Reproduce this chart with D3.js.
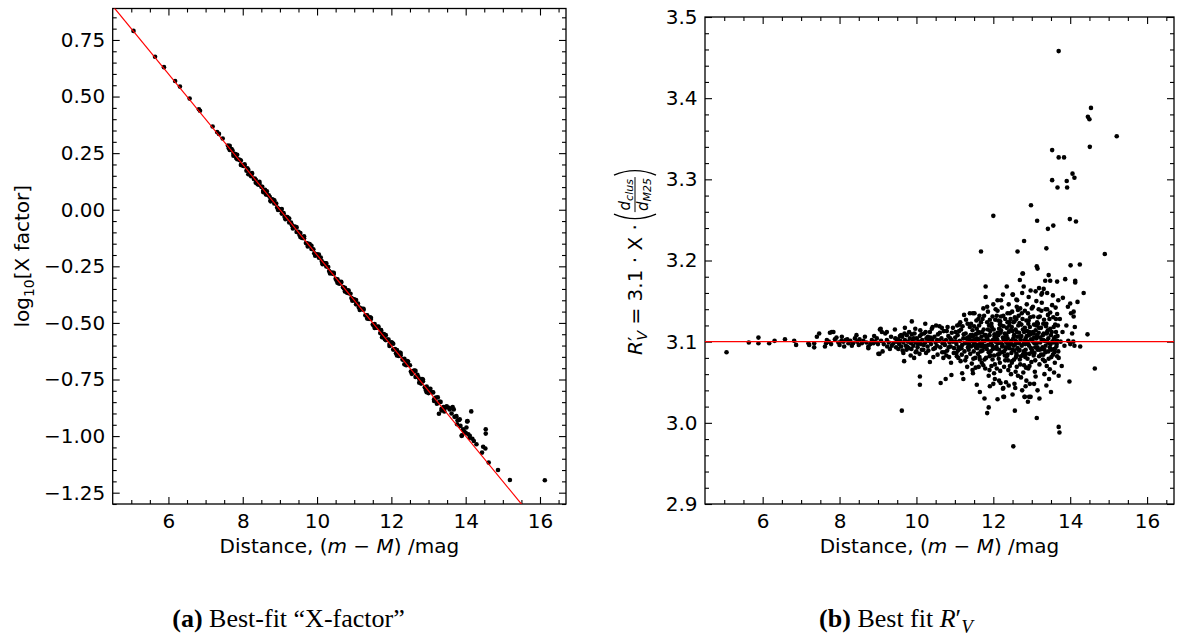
<!DOCTYPE html>
<html>
<head>
<meta charset="utf-8">
<script src="https://cdn.jsdelivr.net/npm/d3@7"></script>
<style>
  body { margin: 0; background: #fff; }
  text { font-family: "DejaVu Sans", sans-serif; }
</style>
</head>
<body>
<svg id="fig" width="1178" height="644"></svg>
<script>
// ---- data ----
// (a) distance modulus vs log10 of the best-fit X factor
let xfactor_sparse = [[5.06,0.790],[5.64,0.676],[5.88,0.630],[6.18,0.569],[6.31,0.544],[6.57,0.491],
  [6.82,0.444],[6.85,0.437],[7.19,0.368],[7.31,0.343],[7.36,0.335],[7.46,0.315]];
let xfactor_band = [[7.60,0.284],[7.65,0.264],[7.70,0.268],[7.75,0.248],[7.80,0.246],[7.85,0.223],[7.90,0.222],
  [7.95,0.217],[8.00,0.195],[8.05,0.193],[8.10,0.172],[8.15,0.176],[8.20,0.159],[8.25,0.159],[8.30,0.136],
  [8.35,0.132],[8.40,0.113],[8.45,0.115],[8.50,0.101],[8.55,0.084],[8.60,0.088],[8.65,0.067],[8.70,0.064],
  [8.75,0.042],[8.80,0.046],[8.85,0.028],[8.90,0.027],[8.95,0.005],[9.00,0.002],[9.05,-0.017],[9.10,-0.015],
  [9.15,-0.031],[9.20,-0.032],[9.25,-0.056],[9.30,-0.057],[9.35,-0.074],[9.40,-0.074],[9.45,-0.098],[9.50,-0.098],
  [9.55,-0.103],[9.60,-0.125],[9.65,-0.126],[9.70,-0.147],[9.75,-0.149],[9.80,-0.152],[9.85,-0.173],[9.90,-0.175],
  [9.95,-0.198],[10.00,-0.197],[10.05,-0.212],[10.10,-0.211],[10.15,-0.236],[10.20,-0.236],[10.25,-0.251],
  [10.30,-0.253],[10.35,-0.278],[10.40,-0.278],[10.45,-0.284],[10.50,-0.305],[10.55,-0.307],[10.60,-0.327],
  [10.65,-0.322],[10.70,-0.342],[10.75,-0.345],[10.80,-0.366],[10.85,-0.369],[10.90,-0.371],[10.95,-0.394],
  [11.00,-0.396],[11.05,-0.418],[11.10,-0.414],[11.15,-0.433],[11.20,-0.438],[11.25,-0.442],[11.30,-0.466],
  [11.35,-0.466],[11.40,-0.482],[11.45,-0.483],[11.50,-0.507],[11.55,-0.505],[11.60,-0.521],[11.65,-0.521],
  [11.70,-0.545],[11.75,-0.547],[11.80,-0.549],[11.85,-0.576],[11.90,-0.574],[11.95,-0.593],[12.00,-0.586],
  [12.05,-0.618],[12.10,-0.616],[12.15,-0.620],[12.20,-0.646],[12.25,-0.643],[12.30,-0.662],[12.35,-0.658],
  [12.40,-0.687],[12.45,-0.685],[12.50,-0.687],[12.55,-0.715],[12.60,-0.712],[12.65,-0.739],[12.70,-0.729],
  [12.75,-0.748],[12.80,-0.768],[12.85,-0.758],[12.90,-0.784],[12.95,-0.781],[13.00,-0.810],[13.05,-0.804],
  [13.10,-0.806],[13.15,-0.837],[13.20,-0.830],[13.25,-0.853],[13.30,-0.848],[13.35,-0.879],[13.40,-0.872],
  [13.45,-0.875],
  [7.625,0.272],[7.725,0.262],[7.825,0.229],[7.925,0.219],[8.025,0.193],[8.125,0.183],[8.225,0.148],[8.325,0.138],
  [8.425,0.111],[8.525,0.101],[8.625,0.067],[8.725,0.057],[8.825,0.042],[8.925,0.010],[9.025,-0.001],[9.125,-0.031],
  [9.225,-0.039],[9.325,-0.068],[9.425,-0.077],[9.525,-0.111],[9.625,-0.122],[9.725,-0.149],[9.825,-0.158],
  [9.925,-0.192],[10.025,-0.201],[10.125,-0.227],[10.225,-0.237],[10.325,-0.271],[10.425,-0.283],[10.525,-0.313],
  [10.625,-0.319],[10.725,-0.348],[10.825,-0.356],[10.925,-0.390],[11.025,-0.402],[11.125,-0.432],[11.225,-0.439],
  [11.325,-0.467],[11.425,-0.475],[11.525,-0.511],[11.625,-0.517],[11.725,-0.532],[11.825,-0.572],[11.925,-0.574],
  [12.025,-0.588],[12.125,-0.634],[12.225,-0.631],[12.325,-0.661],[12.425,-0.669],[12.525,-0.715],[12.625,-0.710],
  [12.725,-0.739],[12.825,-0.748],[12.925,-0.796],[13.025,-0.792],[13.125,-0.807],[13.225,-0.857],[13.325,-0.849],
  [13.425,-0.891]];
let xfactor_edge = [[7.65,0.282],[7.75,0.239],[7.85,0.243],[7.95,0.198],[8.05,0.201],[8.15,0.157],[8.25,0.162],
  [8.35,0.119],[8.45,0.123],[8.55,0.078],[8.65,0.081],[8.75,0.037],[8.85,0.042],[8.95,-0.001],[9.05,0.003],
  [9.15,-0.042],[9.25,-0.039],[9.35,-0.083],[9.45,-0.078],[9.55,-0.121],[9.65,-0.117],[9.75,-0.162],[9.85,-0.159],
  [9.95,-0.203],[10.05,-0.198],[10.15,-0.241],[10.25,-0.237],[10.35,-0.282],[10.45,-0.279],[10.55,-0.323],
  [10.65,-0.318],[10.75,-0.361],[10.85,-0.357],[10.95,-0.402],[11.05,-0.399],[11.15,-0.443],[11.25,-0.438],
  [11.35,-0.481],[11.45,-0.477],[11.55,-0.522],[11.65,-0.516],[11.75,-0.563],[11.85,-0.554],[11.95,-0.602],
  [12.05,-0.592],[12.15,-0.644],[12.25,-0.633],[12.35,-0.683],[12.45,-0.671],[12.55,-0.725],[12.65,-0.712],
  [12.75,-0.764],[12.85,-0.750],[12.95,-0.806],[13.05,-0.791],[13.15,-0.845],[13.25,-0.829],[13.35,-0.887],
  [13.45,-0.872]];
let xfactor_tail = [[13.28,-0.901],[13.49,-0.868],[13.57,-0.882],[13.68,-0.882],[13.75,-0.912],[13.82,-0.929],
  [13.93,-0.970],[14.00,-0.985],[14.07,-0.992],[14.11,-1.007],[14.22,-1.022],[14.29,-1.036],[14.15,-0.891],
  [14.54,-0.970],[14.54,-0.989],[14.04,-0.935],[13.90,-0.997],[14.47,-1.047],[14.53,-1.055],[14.44,-1.073],
  [14.62,-1.117],[14.87,-1.150],[15.19,-1.194],[16.13,-1.195],[14.05,-0.934],[13.84,-0.926],[13.77,-0.948],
  [13.89,-0.999],[14.11,-0.999],[13.55,-0.875],[13.62,-0.900],[13.70,-0.915],[13.78,-0.930],[13.86,-0.955],
  [13.96,-0.980],[14.02,-0.962],[13.65,-0.872],[14.18,-1.012]];
let xfactor_fit = {intercept: 1.80, slope: -0.2};

// (b) distance modulus vs best-fit R'_V
let rv_sparse = [[5.06,3.087],[5.64,3.099],[5.89,3.105],[5.89,3.098],[6.17,3.098],[6.31,3.101],[6.58,3.103],
  [6.82,3.101],[6.87,3.096],[7.19,3.098],[7.21,3.096],[7.34,3.098],[7.34,3.093],[7.41,3.106],[7.47,3.110]];
let rv_near = [[7.65,3.098],[7.67,3.102],[7.75,3.111],[7.84,3.112],[7.80,3.112],[7.88,3.103],[7.97,3.099],
  [8.06,3.106],[8.16,3.102],[8.23,3.098],[8.32,3.095],[8.40,3.104],[8.46,3.100],[8.58,3.098],[8.66,3.106],
  [8.75,3.094],[8.84,3.102],[8.88,3.098],[8.97,3.104],[9.05,3.115],[9.04,3.085],[9.12,3.088],[9.19,3.110],
  [9.23,3.102],[9.24,3.094],[9.31,3.091],[9.34,3.106],[9.40,3.098],[9.49,3.100],
  [7.72,3.100],[7.78,3.097],[7.92,3.105],[8.00,3.096],[8.10,3.100],[8.12,3.094],[8.20,3.103],[8.28,3.101],
  [8.35,3.098],[8.50,3.096],[8.52,3.103],[8.62,3.101],[8.70,3.099],[8.80,3.097],[8.92,3.100],[9.00,3.097],
  [9.08,3.101],[9.15,3.097],[9.28,3.099],[9.36,3.095],[9.45,3.104],[8.75,3.092],[9.01,3.085],[7.62,3.094],
  [8.05,3.101],[8.44,3.108],[8.90,3.107],[9.10,3.112],[9.47,3.093]];
let rv_mid = [[9.62,3.015],
  [9.88,3.125],[10.23,3.122],[9.70,3.117],[9.44,3.115],[9.23,3.112],[9.07,3.116],[10.51,3.120],[10.60,3.119],
  [10.81,3.118],[11.06,3.120],[11.11,3.113],[11.33,3.122],[11.39,3.118],[11.57,3.116],[11.24,3.133],[11.39,3.135],
  [11.47,3.135],[11.61,3.128],[11.76,3.132],
  [9.66,3.086],[9.68,3.076],[9.94,3.080],[9.98,3.087],[10.14,3.090],[10.35,3.075],[10.44,3.081],[10.70,3.080],
  [10.73,3.087],[10.85,3.081],[10.90,3.074],[11.04,3.086],[11.09,3.080],[11.15,3.076],
  [10.09,3.057],[10.09,3.047],[10.63,3.049],[10.76,3.054],[10.91,3.059],[11.19,3.061],[11.22,3.054],[11.47,3.061],
  [11.57,3.047],
  [9.52,3.103],[9.55,3.097],[9.58,3.101],[9.60,3.094],[9.63,3.106],[9.66,3.099],[9.70,3.102],[9.72,3.095],
  [9.75,3.108],[9.78,3.100],[9.80,3.092],[9.83,3.104],[9.86,3.098],[9.90,3.101],[9.92,3.095],[9.95,3.110],
  [9.98,3.099],[10.01,3.104],[10.03,3.093],[10.06,3.100],[10.09,3.107],[10.12,3.097],[10.15,3.102],[10.18,3.090],
  [10.20,3.110],[10.23,3.099],[10.26,3.104],[10.29,3.094],[10.32,3.101],[10.35,3.112],[10.38,3.097],[10.41,3.103],
  [10.44,3.091],[10.47,3.106],[10.50,3.099],[10.53,3.095],[10.56,3.109],[10.59,3.101],[10.62,3.093],[10.65,3.104],
  [10.68,3.098],[10.71,3.113],[10.74,3.096],[10.77,3.102],[10.80,3.089],[10.83,3.107],[10.86,3.099],[10.89,3.094],
  [10.92,3.111],[10.95,3.100],[10.98,3.092],[11.01,3.105],[11.04,3.097],[11.07,3.108],[11.10,3.093],[11.13,3.101],
  [11.16,3.115],[11.19,3.096],[11.22,3.104],[11.25,3.088],[11.28,3.110],[11.31,3.099],[11.34,3.093],[11.37,3.106],
  [11.40,3.085],[11.43,3.101],[11.46,3.114],[11.49,3.096],
  [9.60,3.108],[9.74,3.090],[9.88,3.109],[10.00,3.088],[10.10,3.114],[10.25,3.086],[10.40,3.116],[10.55,3.084],
  [10.66,3.117],[10.78,3.083],[10.95,3.117],[11.05,3.082],[11.20,3.119],[11.30,3.081],[11.42,3.122],[11.48,3.079],
  [10.30,3.106],[10.88,3.104],[11.12,3.091],[9.85,3.083],
  [9.53,3.091],[9.57,3.107],[9.64,3.089],[9.69,3.110],[9.76,3.094],[9.81,3.112],[9.87,3.091],[9.93,3.104],
  [9.97,3.116],[10.04,3.097],[10.08,3.085],[10.13,3.109],[10.19,3.096],[10.24,3.112],[10.31,3.089],[10.37,3.105],
  [10.42,3.118],[10.48,3.092],[10.54,3.102],[10.61,3.111],[10.67,3.087],[10.72,3.100],[10.79,3.113],[10.84,3.093],
  [10.91,3.102],[10.97,3.086],[11.03,3.100],[11.11,3.121],[11.17,3.092],[11.23,3.109],[11.27,3.077],[11.33,3.104],
  [11.38,3.096],[11.45,3.108],[11.49,3.088]];
let rv_far = [[11.80,3.168],[11.80,3.155],[12.35,3.168],[12.00,3.146],[12.11,3.151],[12.20,3.151],[12.11,3.138],
  [11.84,3.143],[12.37,3.135],[12.49,3.137],[12.61,3.143],[12.51,3.158],[12.62,3.151],[12.75,3.160],[12.77,3.184],
  [12.69,3.176],[12.80,3.224],[11.68,3.211],[12.63,3.211],[13.38,3.215],[12.98,3.268],[12.00,3.255],[13.14,3.249],
  [13.42,3.239],[13.56,3.243],[13.13,3.193],[13.15,3.190],[12.76,3.184],[12.79,3.168],[12.97,3.163],[13.19,3.166],
  [13.31,3.165],[13.27,3.160],[12.50,3.158],[13.44,3.182],[13.35,3.175],[13.48,3.175],[13.66,3.174],[13.81,3.154],
  [13.69,3.151],
  [11.65,3.038],[11.77,3.030],[11.91,3.045],[12.11,3.029],[12.19,3.049],[12.26,3.043],[12.28,3.032],[12.50,3.035],
  [12.58,3.063],[12.72,3.056],[12.81,3.032],[12.90,3.026],[12.93,3.032],[11.84,3.012],[11.88,3.019],[12.52,2.971],
  [12.56,3.015],[12.97,3.032],[12.82,3.032],[12.26,3.032],[12.75,3.040],[12.57,3.043],[12.25,3.042],[12.00,3.048],
  [12.95,3.048],[13.06,3.048],[13.20,3.030],[13.13,3.006],[13.70,2.995],[13.72,2.988],[13.45,3.054],[13.70,3.058],
  [13.98,3.051],
  [11.32,3.069],[11.46,3.065],[11.62,3.069],[11.65,3.078],[11.74,3.071],[11.90,3.065],[12.02,3.061],[12.09,3.067],
  [12.17,3.074],[12.28,3.069],[12.39,3.065],[12.48,3.074],[12.61,3.069],[12.69,3.078],[12.80,3.071],[12.91,3.067],
  [11.52,3.102],[11.55,3.093],[11.58,3.110],[11.60,3.085],[11.63,3.120],[11.66,3.098],[11.69,3.106],[11.72,3.089],
  [11.75,3.115],[11.78,3.101],[11.81,3.080],[11.84,3.124],[11.87,3.096],[11.90,3.108],[11.93,3.088],[11.96,3.118],
  [11.99,3.102],[12.02,3.083],[12.05,3.127],[12.08,3.094],[12.11,3.111],[12.14,3.079],[12.17,3.121],[12.20,3.099],
  [12.23,3.087],[12.26,3.132],[12.29,3.105],[12.32,3.091],[12.35,3.117],[12.38,3.077],[12.41,3.124],[12.44,3.100],
  [12.47,3.086],[12.50,3.113],[12.53,3.095],[12.56,3.130],[12.59,3.081],[12.62,3.106],[12.65,3.120],[12.68,3.090],
  [12.71,3.103],[12.74,3.135],[12.77,3.084],[12.80,3.112],[12.83,3.097],[12.86,3.126],[12.89,3.079],[12.92,3.108],
  [12.95,3.118],[12.98,3.092],[13.01,3.101],[13.04,3.131],[13.07,3.086],[13.10,3.114],[13.13,3.098],[13.16,3.122],
  [13.19,3.082],[13.22,3.105],[13.25,3.138],[13.28,3.093],[13.31,3.110],[13.34,3.076],[13.37,3.119],[13.40,3.100],
  [13.43,3.088],[13.46,3.128],[13.49,3.097],[13.52,3.112],[13.55,3.084],[13.58,3.104],[13.61,3.121],[13.64,3.094],
  [13.67,3.107],
  [11.56,3.126],[11.70,3.074],[11.86,3.137],[11.95,3.070],[12.06,3.140],[12.15,3.090],[12.22,3.142],[12.31,3.077],
  [12.40,3.146],[12.46,3.060],[12.55,3.125],[12.64,3.058],[12.70,3.141],[12.78,3.062],[12.87,3.146],[12.94,3.070],
  [13.00,3.141],[13.08,3.063],[13.12,3.150],[13.20,3.072],[13.26,3.148],[13.33,3.060],[13.40,3.140],[13.47,3.066],
  [13.53,3.145],[13.60,3.074],[13.66,3.134],[12.10,3.103],[12.36,3.098],[12.58,3.101],[12.84,3.104],[13.05,3.099],
  [13.30,3.102],[13.57,3.099],[11.88,3.058],[12.04,3.054],[12.33,3.050],[12.86,3.052],[13.10,3.057],[13.38,3.046],
  [13.58,3.062],[12.20,3.131],[12.45,3.128],[12.66,3.132],[12.90,3.135],[13.17,3.130],[13.42,3.133],[13.62,3.142],
  [11.98,3.131],[11.72,3.128]];
let rv_dense = [[11.02,3.112],[11.08,3.089],[11.14,3.124],[11.18,3.084],[11.26,3.098],[11.29,3.127],[11.36,3.090],
  [11.41,3.108],[11.44,3.073],[11.50,3.119],[11.53,3.080],[11.59,3.096],[11.64,3.132],[11.67,3.088],[11.71,3.112],
  [11.76,3.093],[11.79,3.067],[11.83,3.105],[11.89,3.120],[11.92,3.083],[11.97,3.095],[12.01,3.115],[12.04,3.072],
  [12.07,3.104],[12.13,3.126],[12.16,3.085],[12.19,3.111],[12.24,3.096],[12.27,3.119],[12.30,3.083],[12.34,3.108],
  [12.37,3.124],[12.42,3.092],[12.43,3.070],[12.48,3.118],[12.52,3.104],[12.54,3.078],[12.60,3.128],[12.63,3.092],
  [12.67,3.111],[12.72,3.082],[12.73,3.121],[12.79,3.098],[12.82,3.138],[12.85,3.085],[12.88,3.113],[12.93,3.095],
  [12.96,3.130],[12.99,3.075],[13.03,3.112],[13.06,3.121],[13.09,3.093],[13.14,3.108],[13.18,3.140],[13.21,3.090],
  [13.24,3.117],[13.29,3.078],[13.32,3.127],[13.36,3.095],[13.39,3.110],[13.44,3.079],[13.48,3.116],[13.51,3.090],
  [13.56,3.130],[13.59,3.087],[13.63,3.112],[13.68,3.120],[13.66,3.082],
  [11.51,3.135],[11.54,3.068],[11.57,3.104],[11.61,3.112],[11.64,3.081],[11.68,3.124],[11.71,3.097],[11.74,3.141],
  [11.77,3.078],[11.80,3.108],[11.83,3.091],[11.86,3.115],[11.91,3.127],[11.94,3.100],[11.98,3.078],[12.03,3.109],
  [12.06,3.092],[12.09,3.132],[12.12,3.098],[12.15,3.116],[12.18,3.064],[12.21,3.120],[12.25,3.105],[12.28,3.088],
  [12.31,3.128],[12.33,3.100],[12.37,3.084],[12.40,3.112],[12.43,3.135],[12.46,3.097],[12.49,3.076],[12.52,3.124],
  [12.55,3.089],[12.58,3.115],[12.61,3.083],[12.64,3.139],[12.67,3.098],[12.70,3.072],[12.73,3.107],[12.76,3.128],
  [12.79,3.088],[12.82,3.117],[12.85,3.068],[12.88,3.100],[12.91,3.122],[12.94,3.085],[12.97,3.109],[13.00,3.087],
  [13.03,3.143],[13.06,3.105],[13.09,3.077],[13.12,3.120],[13.15,3.090],[13.18,3.111],[13.21,3.131],[13.24,3.084],
  [13.27,3.102],[13.30,3.122],[13.33,3.090],[13.36,3.140],[13.39,3.070],[13.42,3.114],[13.45,3.098],[13.48,3.136],
  [13.51,3.081],[13.54,3.100],[13.57,3.118],[13.60,3.091],[13.63,3.128],[13.66,3.101],[13.69,3.088],[13.55,3.157],
  [13.25,3.158],[12.92,3.155],[12.60,3.152],[12.25,3.158],[13.40,3.160],[13.10,3.162],[12.55,3.048],[12.84,3.045],
  [13.15,3.040],[13.50,3.038],[12.15,3.052],[12.40,3.046]];
let rv_core = [[11.31,3.104],[11.35,3.097],[11.39,3.102],[11.42,3.094],[11.47,3.106],[11.51,3.099],[11.54,3.109],
  [11.58,3.092],[11.62,3.103],[11.65,3.111],[11.68,3.094],[11.73,3.101],[11.77,3.108],[11.80,3.095],[11.85,3.103],
  [11.88,3.087],[11.92,3.113],[11.95,3.099],[11.99,3.091],[12.03,3.106],[12.06,3.100],[12.10,3.091],[12.13,3.108],
  [12.16,3.099],[12.20,3.114],[12.23,3.094],[12.27,3.103],[12.30,3.110],[12.33,3.093],[12.37,3.104],[12.40,3.096],
  [12.44,3.114],[12.47,3.101],[12.50,3.090],[12.54,3.108],[12.57,3.097],[12.61,3.112],[12.64,3.099],[12.67,3.089],
  [12.70,3.106],[12.74,3.095],[12.77,3.115],[12.81,3.101],[12.84,3.090],[12.87,3.107],[12.91,3.097],[12.94,3.112],
  [12.98,3.103],[13.01,3.089],[13.05,3.110],[13.08,3.098],[13.12,3.104],[13.15,3.093],[13.19,3.117],[13.22,3.099],
  [13.26,3.091],[13.29,3.108],[13.33,3.101],[13.36,3.087],[13.40,3.112],[13.43,3.104],[13.47,3.093],[13.50,3.108],
  [13.54,3.100],[13.58,3.091],[13.62,3.106],[13.65,3.097],[11.90,3.082],[12.12,3.084],[12.35,3.082],[12.60,3.085],
  [12.83,3.081],[13.05,3.083],[13.30,3.084],[11.95,3.122],[12.18,3.125],[12.42,3.120],[12.68,3.123],[12.92,3.126],
  [13.14,3.124],[13.38,3.122]];
let rv_edge = [[13.70,3.458],[14.54,3.388],[14.46,3.377],[14.50,3.374],[15.21,3.353],[14.51,3.340],[13.53,3.336],
  [13.70,3.327],[13.84,3.327],[14.06,3.307],[14.11,3.302],[13.53,3.299],[13.67,3.290],[13.92,3.290],[13.91,3.298],
  [13.99,3.251],[14.15,3.248],[14.90,3.208],[14.01,3.194],[14.25,3.195],[14.13,3.175],[14.13,3.173],[13.87,3.177],
  [14.35,3.160],[14.00,3.147],[14.19,3.149],[13.94,3.143],[14.09,3.137],[14.09,3.131],[14.02,3.135],[14.45,3.109],
  [14.26,3.094],[14.11,3.095],[14.00,3.097],[14.64,3.067],[13.70,3.080],[13.75,3.100],[13.80,3.112],[13.85,3.095],
  [13.90,3.120],[13.78,3.070],[13.73,3.128],[13.95,3.101],[14.05,3.110],[14.08,3.100],[14.12,3.118]];
let rv_reference = 3.1;

let x_ticks = [6, 8, 10, 12, 14, 16];
let xf_ticks = [-1.25, -1.0, -0.75, -0.5, -0.25, 0, 0.25, 0.5, 0.75];
let rv_ticks = [2.9, 3.0, 3.1, 3.2, 3.3, 3.4, 3.5];

// ---- layout ----
let svg = d3.select('#fig');
let font_size = 20;
let major_len = 7, minor_len = 4;
let dot_r = 2.3;

let panel_a = {left: 112.7, right: 566, top: 8.5, bottom: 504, xdom: [4.5, 16.7], ydom: [-1.30, 0.889]};
let panel_b = {left: 705, right: 1174, top: 17, bottom: 504, xdom: [4.5, 16.7], ydom: [2.9, 3.5]};

function make_panel(p, id, y_major, y_minor, y_fmt) {
  let x = d3.scaleLinear().domain(p.xdom).range([p.left, p.right]);
  let y = d3.scaleLinear().domain(p.ydom).range([p.bottom, p.top]);
  let g = svg.append('g').attr('id', id);

  g.append('clipPath').attr('id', `${id}-clip`)
    .append('rect')
    .attr('x', p.left).attr('y', p.top)
    .attr('width', p.right - p.left).attr('height', p.bottom - p.top);

  let x_minor = d3.range(9, 34).map(i => i * 0.5).filter(v => v % 2 !== 0 && v > p.xdom[0] && v < p.xdom[1]);

  let axes = [
    [d3.axisBottom(x).tickValues(x_ticks).tickSize(-major_len).tickPadding(9.5).tickFormat(d3.format('d')), `translate(0,${p.bottom})`],
    [d3.axisBottom(x).tickValues(x_minor).tickSize(-minor_len).tickFormat(''), `translate(0,${p.bottom})`],
    [d3.axisTop(x).tickValues(x_ticks).tickSize(-major_len).tickFormat(''), `translate(0,${p.top})`],
    [d3.axisTop(x).tickValues(x_minor).tickSize(-minor_len).tickFormat(''), `translate(0,${p.top})`],
    [d3.axisLeft(y).tickValues(y_major).tickSize(-major_len).tickPadding(7.5).tickFormat(d3.format(y_fmt)), `translate(${p.left},0)`],
    [d3.axisLeft(y).tickValues(y_minor).tickSize(-minor_len).tickFormat(''), `translate(${p.left},0)`],
    [d3.axisRight(y).tickValues(y_major).tickSize(-major_len).tickFormat(''), `translate(${p.right},0)`],
    [d3.axisRight(y).tickValues(y_minor).tickSize(-minor_len).tickFormat(''), `translate(${p.right},0)`],
  ];
  axes.forEach(([ax, tr]) => {
    let a = g.append('g').attr('transform', tr).call(ax);
    a.select('.domain').remove();
    a.selectAll('line').attr('stroke', '#000').attr('stroke-width', 1.1);
    a.selectAll('text')
      .attr('fill', '#000')
      .style('font-size', `${font_size}px`)
      .style('font-family', '"DejaVu Sans", sans-serif');
  });

  g.append('rect')
    .attr('x', p.left).attr('y', p.top)
    .attr('width', p.right - p.left).attr('height', p.bottom - p.top)
    .attr('fill', 'none').attr('stroke', '#000').attr('stroke-width', 1.3);

  return {x, y, g, clip: `url(#${id}-clip)`};
}

function x_label(p) {
  let t = svg.append('text')
    .attr('x', (p.left + p.right) / 2)
    .attr('y', 553)
    .attr('text-anchor', 'middle')
    .style('font-size', `${font_size}px`);
  t.append('tspan').text('Distance, (');
  t.append('tspan').style('font-style', 'italic').text('m');
  t.append('tspan').text(' \u2212 ');
  t.append('tspan').style('font-style', 'italic').text('M');
  t.append('tspan').text(') /mag');
}

function draw_points(panel, pts) {
  panel.g.append('g')
    .attr('clip-path', panel.clip)
    .selectAll('circle')
    .data(pts)
    .enter()
    .append('circle')
    .attr('cx', d => panel.x(d[0]))
    .attr('cy', d => panel.y(d[1]))
    .attr('r', dot_r)
    .attr('fill', '#000');
}

// ---- panel (a) ----
let xf_minor = d3.range(-26, 18).filter(i => i % 5 !== 0).map(i => i * 0.05);
let pa = make_panel(panel_a, 'panel-a', xf_ticks, xf_minor, '.2f');
draw_points(pa, xfactor_sparse.concat(xfactor_band, xfactor_edge, xfactor_tail));

pa.g.append('line')
  .attr('clip-path', pa.clip)
  .attr('x1', pa.x(panel_a.xdom[0]))
  .attr('y1', pa.y(xfactor_fit.intercept + xfactor_fit.slope * panel_a.xdom[0]))
  .attr('x2', pa.x(panel_a.xdom[1]))
  .attr('y2', pa.y(xfactor_fit.intercept + xfactor_fit.slope * panel_a.xdom[1]))
  .attr('stroke', '#ff0000')
  .attr('stroke-width', 1.2);

x_label(panel_a);

let ya = svg.append('text')
  .attr('transform', `translate(29,${(panel_a.top + panel_a.bottom) / 2}) rotate(-90)`)
  .attr('text-anchor', 'middle')
  .style('font-size', `${font_size}px`);
ya.append('tspan').text('log');
ya.append('tspan').attr('dy', 5).style('font-size', '14px').text('10');
ya.append('tspan').attr('dy', -5).text('[X factor]');

// ---- panel (b) ----
let rv_minor = d3.range(145, 176).filter(i => i % 5 !== 0).map(i => i * 0.02);
let pb = make_panel(panel_b, 'panel-b', rv_ticks, rv_minor, '.1f');
draw_points(pb, rv_sparse.concat(rv_near, rv_mid, rv_far, rv_dense, rv_core, rv_edge));

pb.g.append('line')
  .attr('x1', pb.x(panel_b.xdom[0])).attr('x2', pb.x(panel_b.xdom[1]))
  .attr('y1', pb.y(rv_reference)).attr('y2', pb.y(rv_reference))
  .attr('stroke', '#ff0000')
  .attr('stroke-width', 1.3);

x_label(panel_b);

// y label of (b): R'_V = 3.1 . X . (d_clus / d_M25), built in a rotated group
let yb = svg.append('g');
let yb_main = yb.append('text').attr('x', 0).attr('y', 0).style('font-size', `${font_size}px`);
yb_main.append('tspan').style('font-style', 'italic').text('R');
yb_main.append('tspan').text('\u2032');
yb_main.append('tspan').attr('dx', -4).attr('dy', 5).style('font-style', 'italic').style('font-size', '14px').text('V');
yb_main.append('tspan').attr('dy', -5).text(' = 3.1 \u00b7 X \u00b7 ');
let L = yb_main.node().getBBox().width;

let frac_x = L + 13;
let num = yb.append('text').attr('x', frac_x).attr('y', -12).style('font-size', '15px');
num.append('tspan').style('font-style', 'italic').text('d');
num.append('tspan').attr('dy', 3).style('font-style', 'italic').style('font-size', '11px').text('clus');
let den = yb.append('text').attr('x', frac_x).attr('y', 6).style('font-size', '15px');
den.append('tspan').style('font-style', 'italic').text('d');
den.append('tspan').attr('dy', 3).style('font-style', 'italic').style('font-size', '11px').text('M25');
let fw = Math.max(num.node().getBBox().width, den.node().getBBox().width);
num.attr('x', frac_x + (fw - num.node().getBBox().width) / 2);
den.attr('x', frac_x + (fw - den.node().getBBox().width) / 2);
yb.append('line')
  .attr('x1', frac_x - 1).attr('x2', frac_x + fw + 1)
  .attr('y1', -7).attr('y2', -7)
  .attr('stroke', '#000').attr('stroke-width', 1);
yb.append('path')
  .attr('d', `M${L + 10},-28 Q${L + 1},-7 ${L + 10},14`)
  .attr('fill', 'none').attr('stroke', '#000').attr('stroke-width', 1.4);
let rp = frac_x + fw + 3;
yb.append('path')
  .attr('d', `M${rp},-28 Q${rp + 9},-7 ${rp},14`)
  .attr('fill', 'none').attr('stroke', '#000').attr('stroke-width', 1.4);
let W = rp + 9;
yb.attr('transform', `translate(642,${(panel_b.top + panel_b.bottom) / 2 + W / 2}) rotate(-90)`);

// ---- captions ----
let cap_a = svg.append('text')
  .attr('x', 288.5).attr('y', 627)
  .attr('text-anchor', 'middle')
  .style('font-family', '"Liberation Serif", "Times New Roman", serif')
  .style('font-size', '26px');
cap_a.append('tspan').style('font-weight', 'bold').text('(a)');
cap_a.append('tspan').text(' Best-fit \u201cX-factor\u201d');

let cap_b = svg.append('text')
  .attr('x', 896).attr('y', 627)
  .attr('text-anchor', 'middle')
  .style('font-family', '"Liberation Serif", "Times New Roman", serif')
  .style('font-size', '26px');
cap_b.append('tspan').style('font-weight', 'bold').text('(b)');
cap_b.append('tspan').text(' Best fit ');
cap_b.append('tspan').style('font-style', 'italic').text('R');
cap_b.append('tspan').text('\u2032');
cap_b.append('tspan').attr('dy', 6).style('font-style', 'italic').style('font-size', '19px').text('V');
</script>
</body>
</html>
